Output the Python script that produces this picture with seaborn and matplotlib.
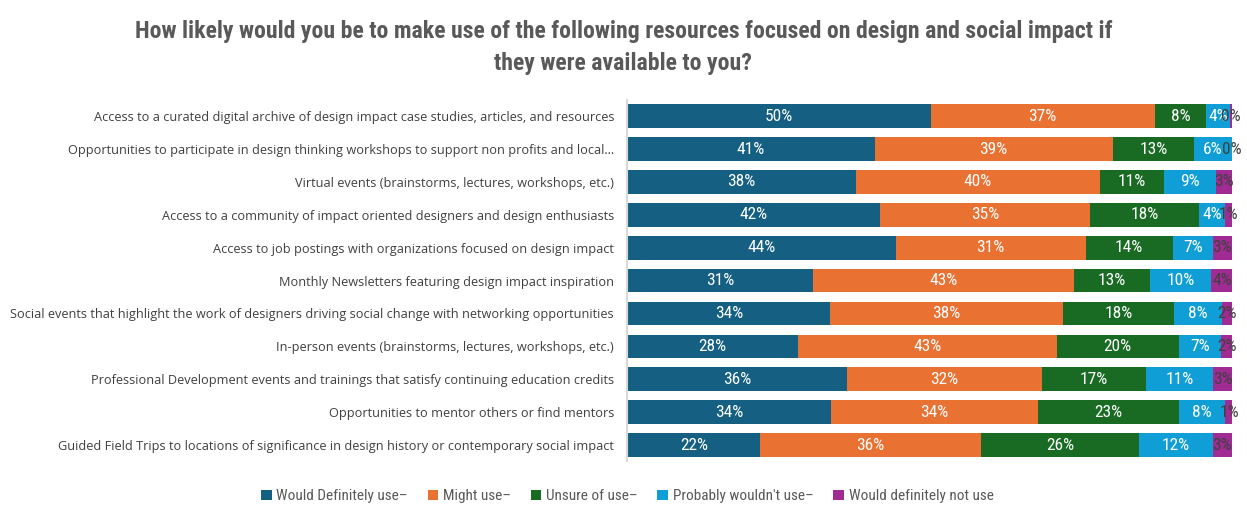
import matplotlib
matplotlib.use("Agg")
import matplotlib.pyplot as plt
from matplotlib.patches import Patch
from matplotlib import font_manager as fm
import seaborn as sns
import pandas as pd

categories = [
    "Access to a curated digital archive of design impact case studies, articles, and resources",
    "Opportunities to participate in design thinking workshops to support non profits and local\u2026",
    "Virtual events (brainstorms, lectures, workshops, etc.)",
    "Access to a community of impact oriented designers and design enthusiasts",
    "Access to job postings with organizations focused on design impact",
    "Monthly Newsletters featuring design impact inspiration",
    "Social events that highlight the work of designers driving social change with networking opportunities",
    "In-person events (brainstorms, lectures, workshops, etc.)",
    "Professional Development events and trainings that satisfy continuing education credits",
    "Opportunities to mentor others or find mentors",
    "Guided Field Trips to locations of significance in design history or contemporary social impact",
]

series_names = [
    "Would Definitely use\u2013",
    "Might use\u2013",
    "Unsure of use\u2013",
    "Probably wouldn't use\u2013",
    "Would definitely not use",
]

would_definitely = [50.2, 40.9, 37.8, 41.8, 44.4, 30.7, 33.6, 28.2, 36.3, 33.7, 22.0]
might_use        = [37.0, 39.4, 40.3, 34.7, 31.4, 43.1, 38.4, 42.8, 32.3, 34.2, 36.5]
unsure           = [8.5, 13.4, 10.6, 18.0, 14.4, 12.7, 18.4, 20.2, 17.1, 23.3, 26.1]
probably_not     = [3.9, 6.3, 8.6, 4.3, 6.6, 10.0, 8.0, 6.9, 11.2, 7.7, 12.2]
definitely_not   = [0.4, 0.0, 2.7, 1.2, 3.2, 3.6, 1.6, 2.0, 3.2, 1.2, 3.2]

colors = ["#156082", "#E97132", "#196B24", "#0F9ED5", "#A02B93"]
label_colors = ["white", "white", "white", "white", "#404040"]

series = [would_definitely, might_use, unsure, probably_not, definitely_not]
df = pd.DataFrame({name: vals for name, vals in zip(series_names, series)})
df["category"] = categories
cum = df[series_names].cumsum(axis=1)


def condensed_family():
    """Return an installed sans family that has a condensed/narrow face."""
    found = {f.name for f in fm.fontManager.ttflist if f.stretch == "condensed"}
    for name in ["Liberation Sans Narrow", "Roboto Condensed", "Noto Sans",
                 "Open Sans", "DejaVu Sans", "Noto Sans Display"]:
        if name in found:
            return name
    return None


cond = condensed_family()


def narrow(size, weight="normal"):
    if cond:
        return fm.FontProperties(family=cond, stretch="condensed",
                                 weight=weight, size=size)
    return fm.FontProperties(family="Roboto", weight=weight, size=size * 0.93)


sns.set_theme(style="white")
plt.rcParams["font.family"] = ["Open Sans", "DejaVu Sans"]

fig = plt.figure(figsize=(12.47, 5.22), dpi=100)
ax = fig.add_axes([0.503, 0.116, 0.485, 0.693])

# Stacked bars: draw cumulative totals from the outermost segment inward
for i in range(len(series_names) - 1, -1, -1):
    sns.barplot(x=cum[series_names[i]], y=df["category"], color=colors[i],
                orient="h", width=0.72, saturation=1, ax=ax, linewidth=0)

# Segment labels
for i, name in enumerate(series_names):
    start = cum[name] - df[name]
    for j, v in enumerate(df[name]):
        ax.text(start[j] + v / 2, j, f"{v:.0f}%", ha="center", va="center",
                color=label_colors[i] if v > 0.3 else "#404040",
                fontproperties=narrow(12.5))

ax.set_xlim(0, 100)
ax.set_ylim(10.5, -0.5)
ax.set_xlabel("")
ax.set_ylabel("")
ax.set_xticks([])
ax.tick_params(axis="y", length=0, pad=9.5, labelsize=9.2, labelcolor="#404040")
for s in ["top", "right", "bottom"]:
    ax.spines[s].set_visible(False)
ax.spines["left"].set_color("#d9d9d9")
ax.spines["left"].set_linewidth(1.5)

fig.suptitle("How likely would you be to make use of the following resources focused on design and social impact if\nthey were available to you?",
             x=0.5, y=0.962, color="#595959", linespacing=1.5,
             fontproperties=narrow(17.1, "bold"))

handles = [Patch(facecolor=c, edgecolor="none") for c in colors]
fig.legend(handles, series_names, loc="center", bbox_to_anchor=(0.503, 0.049),
           ncol=5, frameon=False, handlelength=0.7, handleheight=0.7,
           handletextpad=0.3, columnspacing=1.3,
           prop=narrow(11), labelcolor="#595959")

fig.savefig("out.png", dpi=100, facecolor="white")
